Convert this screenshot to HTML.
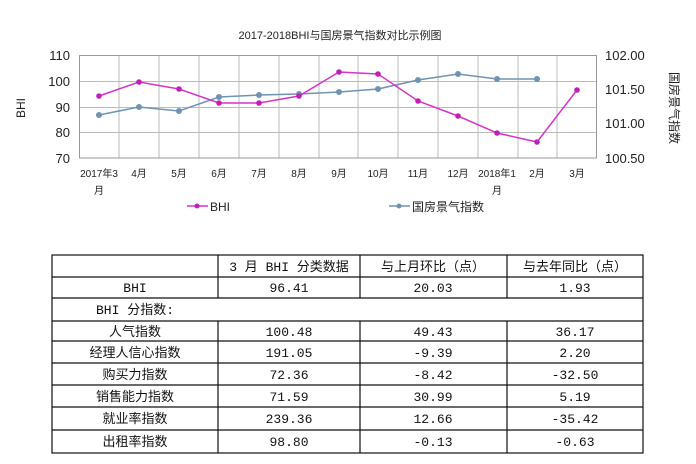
<!DOCTYPE html>
<html><head><meta charset="utf-8"><style>
html,body{margin:0;padding:0;background:#fff;}
svg{display:block;font-family:"Liberation Sans","Noto Sans CJK SC",sans-serif;}
.t{font-family:"Liberation Mono","Noto Sans CJK SC",monospace;font-size:13px;fill:#111;}
</style></head><body>
<svg width="696" height="464" viewBox="0 0 696 464" xmlns="http://www.w3.org/2000/svg">
<text x="340" y="39" font-size="11" text-anchor="middle" fill="#222">2017-2018BHI与国房景气指数对比示例图</text>
<g stroke="#bbb" stroke-width="1">
<line x1="79" y1="55.5" x2="597" y2="55.5"/><line x1="79" y1="81.5" x2="597" y2="81.5"/>
<line x1="79" y1="107.5" x2="597" y2="107.5"/><line x1="79" y1="132.5" x2="597" y2="132.5"/>
<line x1="119" y1="55" x2="119" y2="158"/><line x1="159" y1="55" x2="159" y2="158"/><line x1="199" y1="55" x2="199" y2="158"/>
<line x1="239" y1="55" x2="239" y2="158"/><line x1="279" y1="55" x2="279" y2="158"/><line x1="319" y1="55" x2="319" y2="158"/>
<line x1="358" y1="55" x2="358" y2="158"/><line x1="398" y1="55" x2="398" y2="158"/><line x1="438" y1="55" x2="438" y2="158"/>
<line x1="478" y1="55" x2="478" y2="158"/><line x1="518" y1="55" x2="518" y2="158"/><line x1="557" y1="55" x2="557" y2="158"/>
</g>
<rect x="79.5" y="55.5" width="517" height="102.5" fill="none" stroke="#999"/>
<g font-size="13" fill="#222" text-anchor="end">
<text x="70" y="60">110</text><text x="70" y="86">100</text><text x="70" y="112">90</text><text x="70" y="137">80</text><text x="70" y="163">70</text>
</g>
<g font-size="13" fill="#222">
<text x="605" y="60">102.00</text><text x="605" y="94">101.50</text><text x="605" y="128">101.00</text><text x="605" y="163">100.50</text>
</g>
<text transform="translate(25,108) rotate(-90)" font-size="12" text-anchor="middle" fill="#222">BHI</text>
<text transform="translate(670,108) rotate(90)" font-size="12" text-anchor="middle" fill="#222">国房景气指数</text>
<g font-size="10" fill="#222" text-anchor="middle">
<text x="99" y="177">2017年3</text><text x="99" y="194">月</text>
<text x="139" y="177">4月</text><text x="179" y="177">5月</text><text x="219" y="177">6月</text>
<text x="259" y="177">7月</text><text x="299" y="177">8月</text><text x="339" y="177">9月</text>
<text x="378" y="177">10月</text><text x="418" y="177">11月</text><text x="458" y="177">12月</text>
<text x="497" y="177">2018年1</text><text x="497" y="194">月</text>
<text x="537" y="177">2月</text><text x="577" y="177">3月</text>
</g>
<polyline fill="none" stroke="#6f93b3" stroke-width="1.5" points="99,115 139,107 179,111 219,97 259,95 299,94 339,92 378,89 418,80 458,74 497,79 537,79"/>
<g fill="#6f93b3"><circle cx="99" cy="115" r="3"/><circle cx="139" cy="107" r="3"/><circle cx="179" cy="111" r="3"/><circle cx="219" cy="97" r="3"/><circle cx="259" cy="95" r="3"/><circle cx="299" cy="94" r="3"/><circle cx="339" cy="92" r="3"/><circle cx="378" cy="89" r="3"/><circle cx="418" cy="80" r="3"/><circle cx="458" cy="74" r="3"/><circle cx="497" cy="79" r="3"/><circle cx="537" cy="79" r="3"/></g>
<polyline fill="none" stroke="#d633c8" stroke-width="1.5" points="99,96 139,82 179,89 219,103 259,103 299,96 339,72 378,74 418,101 458,116 497,133 537,142 577,90"/>
<g fill="#c020b8"><circle cx="99" cy="96" r="2.8"/><circle cx="139" cy="82" r="2.8"/><circle cx="179" cy="89" r="2.8"/><circle cx="219" cy="103" r="2.8"/><circle cx="259" cy="103" r="2.8"/><circle cx="299" cy="96" r="2.8"/><circle cx="339" cy="72" r="2.8"/><circle cx="378" cy="74" r="2.8"/><circle cx="418" cy="101" r="2.8"/><circle cx="458" cy="116" r="2.8"/><circle cx="497" cy="133" r="2.8"/><circle cx="537" cy="142" r="2.8"/><circle cx="577" cy="90" r="2.8"/></g>
<line x1="187" y1="206" x2="208" y2="206" stroke="#d633c8" stroke-width="1.5"/><circle cx="197" cy="206" r="2.5" fill="#c020b8"/>
<text x="210" y="211" font-size="12" fill="#222">BHI</text>
<line x1="389" y1="206" x2="410" y2="206" stroke="#6f93b3" stroke-width="1.5"/><circle cx="399" cy="206" r="2.5" fill="#6f93b3"/>
<text x="412" y="211" font-size="12" fill="#222">国房景气指数</text>
<g stroke="#111" stroke-width="1.2" fill="none">
<rect x="52" y="255" width="591" height="198"/>
<line x1="52" y1="277" x2="643" y2="277"/><line x1="52" y1="298" x2="643" y2="298"/>
<line x1="52" y1="321" x2="643" y2="321"/><line x1="52" y1="341" x2="643" y2="341"/>
<line x1="52" y1="363" x2="643" y2="363"/><line x1="52" y1="385" x2="643" y2="385"/>
<line x1="52" y1="407" x2="643" y2="407"/><line x1="52" y1="430" x2="643" y2="430"/>
<line x1="218" y1="255" x2="218" y2="298"/><line x1="218" y1="321" x2="218" y2="453"/>
<line x1="360" y1="255" x2="360" y2="298"/><line x1="360" y1="321" x2="360" y2="453"/>
<line x1="507" y1="255" x2="507" y2="298"/><line x1="507" y1="321" x2="507" y2="453"/>
</g>
<g class="t" text-anchor="middle">
<text x="289" y="271">3 月 BHI 分类数据</text><text x="433" y="271">与上月环比（点）</text><text x="575" y="271">与去年同比（点）</text>
<text x="135" y="292">BHI</text><text x="289" y="292">96.41</text><text x="433" y="292">20.03</text><text x="575" y="292">1.93</text>
<text x="135" y="336">人气指数</text><text x="289" y="336">100.48</text><text x="433" y="336">49.43</text><text x="575" y="336">36.17</text>
<text x="135" y="357">经理人信心指数</text><text x="289" y="357">191.05</text><text x="433" y="357">-9.39</text><text x="575" y="357">2.20</text>
<text x="135" y="379">购买力指数</text><text x="289" y="379">72.36</text><text x="433" y="379">-8.42</text><text x="575" y="379">-32.50</text>
<text x="135" y="401">销售能力指数</text><text x="289" y="401">71.59</text><text x="433" y="401">30.99</text><text x="575" y="401">5.19</text>
<text x="135" y="423">就业率指数</text><text x="289" y="423">239.36</text><text x="433" y="423">12.66</text><text x="575" y="423">-35.42</text>
<text x="135" y="446">出租率指数</text><text x="289" y="446">98.80</text><text x="433" y="446">-0.13</text><text x="575" y="446">-0.63</text>
</g>
<text class="t" x="135" y="314" text-anchor="middle">BHI 分指数:</text>
</svg>
</body></html>
